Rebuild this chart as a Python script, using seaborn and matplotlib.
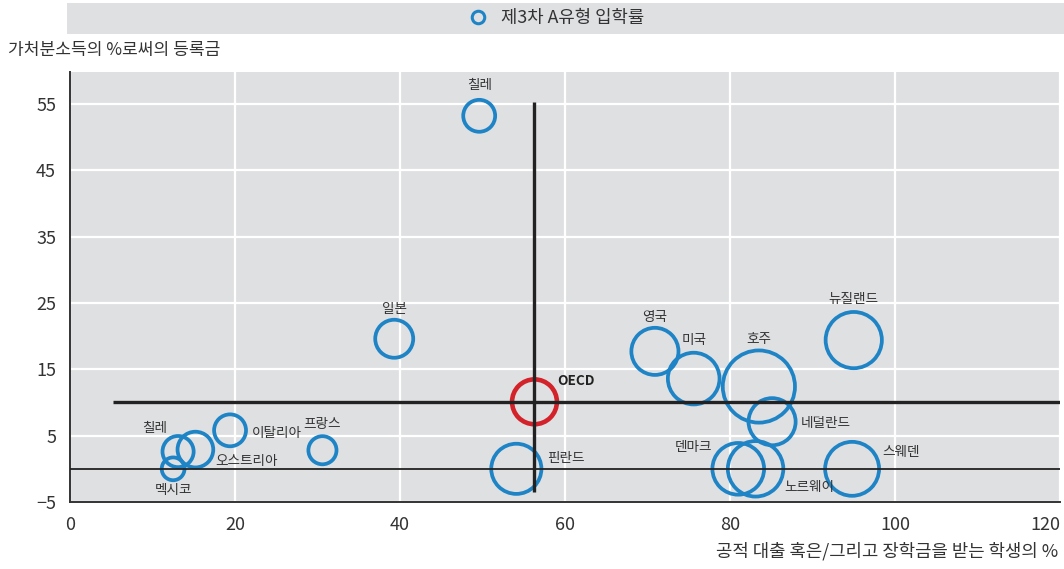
import numpy as np
import pandas as pd
import matplotlib
matplotlib.use("Agg")
import matplotlib.pyplot as plt
from matplotlib.lines import Line2D
from matplotlib.patches import Rectangle
import seaborn as sns

# ---- data -------------------------------------------------------------
countries = ["칠레", "일본", "칠레", "오스트리아", "이탈리아", "멕시코", "프랑스", "핀란드",
             "영국", "미국", "호주", "뉴질랜드", "네덜란드", "덴마크", "노르웨이", "스웨덴"]
aid_share = [49.6, 39.3, 13.1, 15.2, 19.4, 12.5, 30.6, 54.1,
             70.9, 75.6, 83.5, 95.0, 85.1, 81.0, 83.1, 94.8]
tuition_share = [53.2, 19.6, 2.6, 2.9, 5.8, 0.0, 2.8, 0.0,
                 17.7, 13.6, 12.4, 19.4, 7.1, 0.0, 0.0, 0.0]
entry_rate = [42, 50, 41, 47, 42, 30, 37, 66, 62, 68, 95, 74, 62, 68, 73, 71]

oecd_name = "OECD"
oecd_aid = 56.3
oecd_tuition = 10.1
oecd_entry = 59

legend_label = "제3차 A유형 입학률"
y_title = "가처분소득의 %로써의 등록금"
x_title = "공적 대출 혹은/그리고 장학금을 받는 학생의 %"
x_ticks = [0, 20, 40, 60, 80, 100, 120]
y_ticks = [-5, 5, 15, 25, 35, 45, 55]

# ---- label placement (pixel offsets from bubble centre) ---------------
label_offsets = {
    0: (0, 31, "center"), 1: (0, 30, "center"), 2: (-23, 24, "center"),
    3: (20, -11, "left"), 4: (22, -3, "left"), 5: (0, -21, "center"),
    6: (0, 26, "center"), 7: (31, 11, "left"), 8: (0, 34, "center"),
    9: (0, 39, "center"), 10: (0, 48, "center"), 11: (0, 41, "center"),
    12: (29, -1, "left"), 13: (-45, 22, "center"), 14: (29, -18, "left"),
    15: (30, 17, "left"),
}

# ---- style ------------------------------------------------------------
BLUE = "#1e84c6"
RED = "#d3222a"
PANEL = "#dfe0e2"
INK = "#333333"

sns.set_theme(style="white")
plt.rcParams["font.family"] = ["Noto Sans CJK KR", "DejaVu Sans"]
plt.rcParams["axes.unicode_minus"] = True

df = pd.DataFrame({"country": countries, "aid": aid_share,
                   "tuition": tuition_share, "entry": entry_rate})
df["area"] = df["entry"] ** 2
oecd = pd.DataFrame({"country": [oecd_name], "aid": [oecd_aid],
                     "tuition": [oecd_tuition], "entry": [oecd_entry]})
oecd["area"] = oecd["entry"] ** 2

# bubble radius proportional to the entry rate
SIZE_RANGE = (0, 2994)
SIZE_NORM = (0, 100 ** 2)

fig = plt.figure(figsize=(10.64, 5.69), dpi=100)
ax = fig.add_axes([70 / 1064, 1 - 502 / 569, 990 / 1064, 430 / 569])
ax.set_facecolor(PANEL)

sns.scatterplot(data=df, x="aid", y="tuition", size="area", sizes=SIZE_RANGE,
                size_norm=SIZE_NORM, legend=False, ax=ax, zorder=3,
                facecolor="none", edgecolor=BLUE, linewidth=2.7, clip_on=False)
coll = ax.collections[-1]
coll.set_facecolor("none")
coll.set_edgecolor(BLUE)

sns.scatterplot(data=oecd, x="aid", y="tuition", size="area", sizes=SIZE_RANGE,
                size_norm=SIZE_NORM, legend=False, ax=ax, zorder=3,
                facecolor="none", edgecolor=RED, linewidth=3.3, clip_on=False)
coll = ax.collections[-1]
coll.set_facecolor("none")
coll.set_edgecolor(RED)

# reference lines: zero line and OECD averages
ax.axhline(0, color="#222222", lw=1.3, zorder=4)
ax.plot([5.2, 120], [oecd_tuition, oecd_tuition], color="#222222", lw=2.4,
        zorder=4, solid_capstyle="butt")
ax.plot([oecd_aid, oecd_aid], [-3.5, 55.3], color="#222222", lw=2.4,
        zorder=4, solid_capstyle="butt")

# country labels
for i, row in df.iterrows():
    dx, dy, ha = label_offsets[i]
    ax.annotate(row["country"], (row["aid"], row["tuition"]),
                xytext=(dx, dy), textcoords="offset pixels",
                ha=ha, va="center", fontsize=9.8, color=INK, zorder=5)
ax.annotate(oecd_name, (oecd_aid, oecd_tuition), xytext=(23, 21),
            textcoords="offset pixels", ha="left", va="center",
            fontsize=9.8, fontweight="bold", color="#222222", zorder=5)

# axes
ax.set_xlim(0, 120)
ax.set_ylim(-5, 59.8)
ax.set_xticks(x_ticks)
ax.set_yticks(y_ticks)
ax.set_xlabel("")
ax.set_ylabel("")
ax.grid(True, color="white", lw=1.6, zorder=0)
ax.set_axisbelow(True)
for side in ("top", "right"):
    ax.spines[side].set_visible(False)
for side in ("left", "bottom"):
    ax.spines[side].set_color("#333333")
    ax.spines[side].set_linewidth(1.4)
ax.tick_params(axis="both", direction="in", length=5, width=1.1,
               color="#333333", labelsize=13, labelcolor=INK, pad=10)
# keep the last x tick label inside the figure
ax.get_xticklabels()[-1].set_horizontalalignment("right")

# titles
fig.text(8 / 1064, 1 - 50 / 569, y_title, ha="left", va="center",
         fontsize=12.3, color=INK)
fig.text(1058 / 1064, 1 - 551 / 569, x_title, ha="right", va="center",
         fontsize=12.8, color=INK)

# legend band
fig.patches.append(Rectangle((67 / 1064, 1 - 34 / 569), 1, 31 / 569,
                             transform=fig.transFigure, facecolor=PANEL,
                             edgecolor="none", zorder=0))
handle = Line2D([], [], marker="o", ls="", mfc="none", mec=BLUE, mew=2.2, ms=9)
fig.legend(handles=[handle], labels=[legend_label], loc="center",
           bbox_to_anchor=(552 / 1064, 1 - 18 / 569), frameon=False,
           fontsize=12.8, handletextpad=0.3, borderaxespad=0,
           labelcolor=INK)

fig.savefig("out.png", dpi=100)
